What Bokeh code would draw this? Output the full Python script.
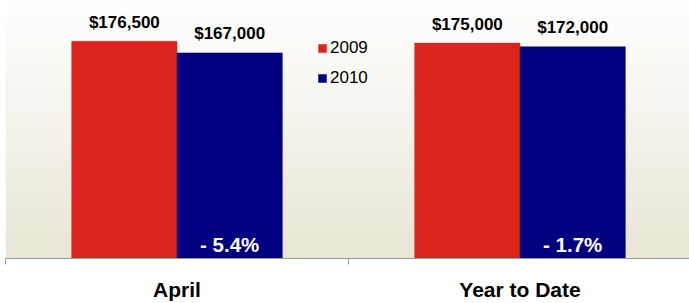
import numpy as np
from bokeh.plotting import figure
from bokeh.models import FixedTicker, Legend, LegendItem, Range1d
from bokeh.core.properties import value
from bokeh.embed import file_html
from bokeh.resources import INLINE

# ---- data ----
categories = ["April", "Year to Date"]
series = ["2009", "2010"]
values_2009 = [176500, 175000]
values_2010 = [167000, 172000]
change_labels = ["- 5.4%", "- 1.7%"]

# ---- styles ----
FONT = value("Liberation Sans")
RED = "#DC241F"
NAVY = "#000080"
BAR_W = 0.307
DODGE = 0.1535

x_start, x_end = 0, 684 / 343
y_end = 209600

p = figure(width=689, height=303, output_backend="svg", toolbar_location=None,
           x_range=Range1d(x_start, x_end), y_range=Range1d(0, y_end),
           min_border_left=5, min_border_right=0, min_border_top=0, min_border_bottom=41)
p.outline_line_color = None
p.grid.visible = False
p.yaxis.visible = False
p.background_fill_color = "white"
p.border_fill_color = "white"

# gradient background (image)
N = 262
img = np.empty((N, 1), dtype=np.uint32)
view = img.view(dtype=np.uint8).reshape((N, 1, 4))
bottom = np.array([233, 230, 214], dtype=float)
top = np.array([255, 255, 255], dtype=float)
for i in range(N):
    t = i / (N - 1)
    c = bottom + (top - bottom) * t
    view[i, 0, 0:3] = c.astype(np.uint8)
    view[i, 0, 3] = 255
p.image_rgba(image=[img], x=x_start, y=0, dw=x_end - x_start, dh=y_end)

centers = [i + 0.5 for i in range(len(categories))]
x09 = [c - DODGE for c in centers]
x10 = [c + DODGE for c in centers]

r09 = p.vbar(x=x09, top=values_2009, width=BAR_W, fill_color=RED, line_color=RED, line_width=0.5)
r10 = p.vbar(x=x10, top=values_2010, width=BAR_W, fill_color=NAVY, line_color=NAVY, line_width=0.5)

lab09 = ["${:,}".format(v) for v in values_2009]
lab10 = ["${:,}".format(v) for v in values_2010]
p.text(x=x09, y=values_2009, text=lab09, text_align="center", text_baseline="alphabetic",
       y_offset=-19, text_font=FONT, text_font_style="bold", text_font_size="17px", text_color="black")
p.text(x=x10, y=values_2010, text=lab10, text_align="center", text_baseline="alphabetic",
       y_offset=-19, text_font=FONT, text_font_style="bold", text_font_size="17px", text_color="black")
p.text(x=x10, y=[0] * len(x10), text=change_labels, text_align="center", text_baseline="alphabetic",
       y_offset=-14, text_font=FONT, text_font_style="bold", text_font_size="20.5px", text_color="white")

# x axis: labels at centres, minor ticks at boundaries
ax = p.xaxis[0]
ax.ticker = FixedTicker(ticks=centers, minor_ticks=list(range(len(categories) + 1)))
ax.major_label_overrides = {c: cat for c, cat in zip(centers, categories)}
ax.major_tick_out = 0
ax.major_tick_in = 0
ax.minor_tick_out = 6
ax.minor_tick_in = 0
ax.minor_tick_line_color = "#999999"
ax.axis_line_color = "#999999"
ax.major_label_standoff = 13
ax.major_label_text_font = "Liberation Sans"
ax.major_label_text_font_style = "bold"
ax.major_label_text_font_size = "21px"
ax.major_label_text_color = "black"

legend = Legend(items=[LegendItem(label=series[0], renderers=[r09]),
                       LegendItem(label=series[1], renderers=[r10])],
                location=(312, 170), glyph_width=10, glyph_height=10, label_standoff=3,
                spacing=10, padding=0, margin=0, label_height=20,
                border_line_alpha=0, background_fill_alpha=0,
                label_text_font="Liberation Sans", label_text_font_size="17px",
                label_text_color="black")
p.add_layout(legend)

open("out.html", "w").write(file_html(p, INLINE))
